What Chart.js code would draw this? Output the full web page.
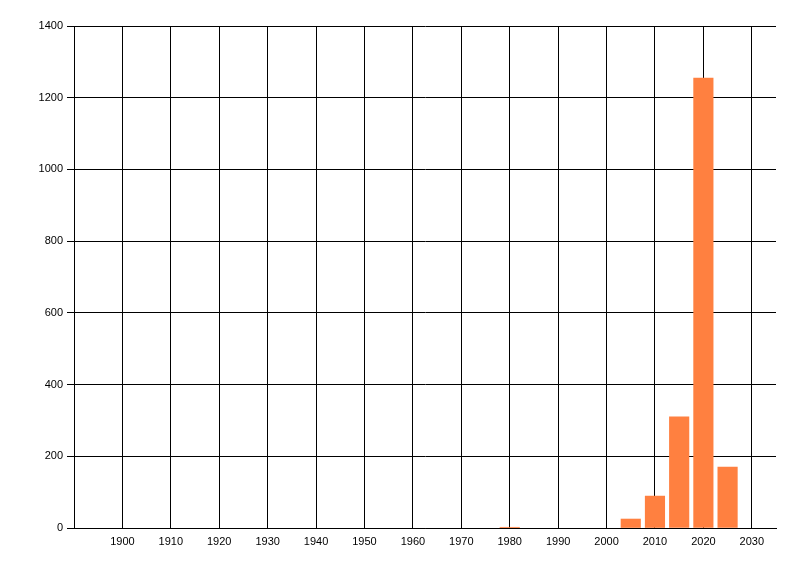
<!DOCTYPE html>
<html>
<head>
<meta charset="utf-8">
<script src="https://cdn.jsdelivr.net/npm/chart.js@4/dist/chart.umd.min.js"></script>
<style>
  html, body { margin: 0; padding: 0; background: #fff; }
  #chart { display: block; }
</style>
</head>
<body>
<canvas id="chart" width="800" height="576"></canvas>
<script>
// years (bar centres) and counts
var years  = [1980, 2005, 2010, 2015, 2020, 2025];
var counts = [2, 25, 89, 310, 1255, 170];
var xTicks = [1900, 1910, 1920, 1930, 1940, 1950, 1960, 1970, 1980, 1990, 2000, 2010, 2020, 2030];
var yTicks = [0, 200, 400, 600, 800, 1000, 1200, 1400];

var points = years.map(function (yr, i) { return { x: yr, y: counts[i] }; });
var tickFont = { family: 'Liberation Sans', size: 11 };

var ctx = document.getElementById('chart');
var chart = new Chart(ctx, {
    type: 'bar',
    data: {
        datasets: [{
            data: points,
            backgroundColor: 'rgb(255, 128, 64)',
            borderWidth: 0,
            barThickness: 19.5
        }]
    },
    options: {
        responsive: false,
        animation: false,
        layout: { padding: { left: 0, right: 24, top: 26, bottom: 0 } },
        plugins: { legend: { display: false }, tooltip: { enabled: false } },
        scales: {
            x: {
                type: 'linear',
                min: 1890,
                max: 2035,
                offset: false,
                afterBuildTicks: function (scale) {
                    scale.ticks = xTicks.map(function (v) { return { value: v }; });
                },
                afterFit: function (scale) { scale.height = 48; },
                grid: { color: '#000', lineWidth: 1, drawTicks: false, offset: false },
                border: { color: '#000', width: 1 },
                ticks: {
                    color: '#000',
                    font: tickFont,
                    padding: 7,
                    maxRotation: 0,
                    callback: function (v) { return String(v); }
                }
            },
            y: {
                min: 0,
                max: 1400,
                afterBuildTicks: function (scale) {
                    scale.ticks = yTicks.map(function (v) { return { value: v }; });
                },
                afterFit: function (scale) { scale.width = 74; },
                grid: { color: '#000', lineWidth: 1, tickLength: 7 },
                border: { color: '#000', width: 1 },
                ticks: {
                    color: '#000',
                    font: tickFont,
                    padding: 4,
                    callback: function (v) { return String(v); }
                }
            }
        }
    }
});
</script>
</body>
</html>
